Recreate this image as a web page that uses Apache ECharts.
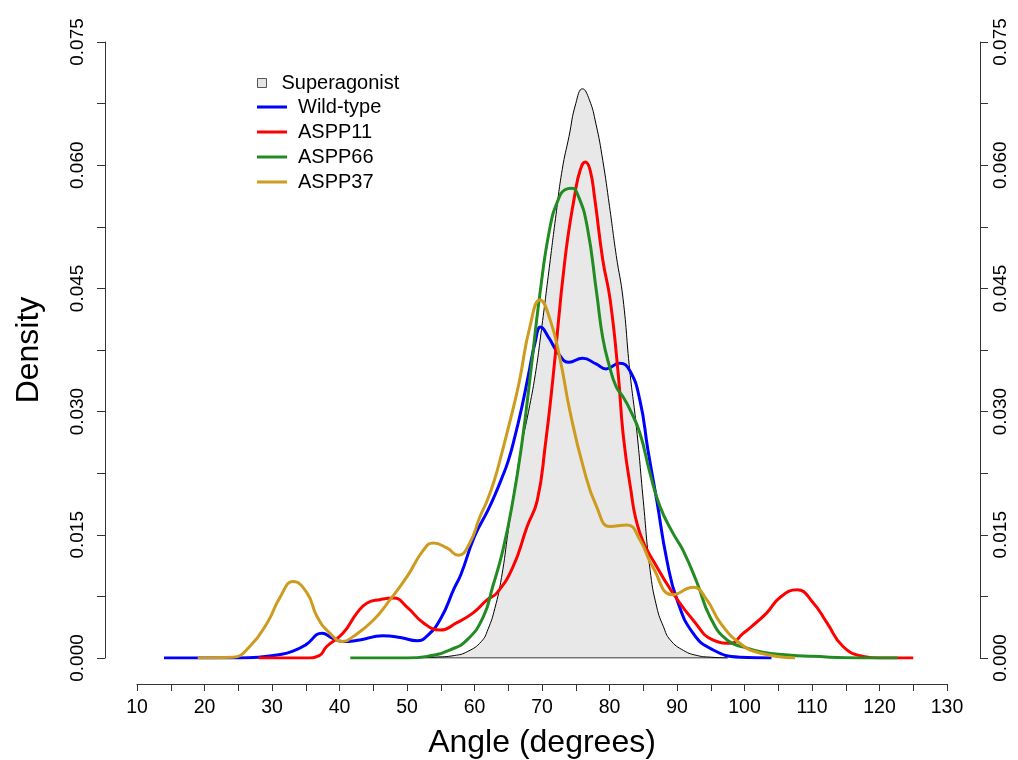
<!DOCTYPE html>
<html><head><meta charset="utf-8">
<script src="https://cdn.jsdelivr.net/npm/echarts@6/dist/echarts.min.js"></script>
<style>html,body{margin:0;padding:0;background:#fff}#c{width:1018px;height:760px}</style>
</head><body><div id="c"></div>
<script>
// ---- data ----
const xTickLabels = ['10','20','30','40','50','60','70','80','90','100','110','120','130'];
const yTickLabels = ['0.000','0.015','0.030','0.045','0.060','0.075'];
const seriesNames = ['Superagonist','Wild-type','ASPP11','ASPP66','ASPP37'];

const superX = [51, 54, 57, 59, 61, 62, 63, 64, 65, 66, 67, 68, 69, 70, 71, 72, 73, 74, 75, 76, 77, 78, 79, 80, 81, 82, 83, 84, 85, 86, 87, 88, 89, 91, 93, 95, 97.5];
const superY = [0, 0.0001, 0.0003, 0.0008, 0.002, 0.0035, 0.006, 0.0098, 0.0155, 0.021, 0.026, 0.030, 0.0345, 0.0405, 0.047, 0.0535, 0.0595, 0.0635, 0.0675, 0.0693, 0.068, 0.065, 0.0606, 0.055, 0.049, 0.0438, 0.035, 0.028, 0.0192, 0.0108, 0.0062, 0.0038, 0.0022, 0.0009, 0.0003, 0.0001, 0];

const wildX = [14, 25, 28, 31, 33, 35, 37.4, 39, 40.5, 43, 46.4, 49, 51.5, 53, 55, 57, 58, 60, 62, 63, 64, 65, 66, 67, 68, 69, 69.8, 71, 72.5, 74, 76, 78, 79.5, 81.5, 83, 84.5, 85.7, 87, 88.5, 90, 92.4, 95.3, 99.3, 104];
const wildY = [0, 0, 0.0001, 0.0004, 0.0008, 0.0016, 0.003, 0.0024, 0.002, 0.0022, 0.0027, 0.0025, 0.0021, 0.0027, 0.0048, 0.0085, 0.0102, 0.0148, 0.018, 0.0198, 0.0218, 0.024, 0.027, 0.0305, 0.0345, 0.0385, 0.0403, 0.039, 0.037, 0.036, 0.0365, 0.0358, 0.0352, 0.0359, 0.0350, 0.0314, 0.0253, 0.0192, 0.0119, 0.0071, 0.003, 0.001, 0.0001, 0];

const a11X = [28, 35, 37, 38.1, 40.5, 42.6, 44.1, 46, 48, 50, 52.4, 54.9, 57.4, 59.8, 61.9, 63.3, 65.7, 67.8, 69.3, 70.5, 71.6, 73.4, 74.9, 75.7, 76.4, 77.1, 77.8, 79, 80.1, 81.3, 82, 83, 84.5, 87, 89.4, 92.4, 95.3, 97.9, 99.8, 101, 103.3, 105.3, 107.8, 110.1, 112.2, 114.6, 117.6, 120, 125];
const a11Y = [0, 0, 0.0003, 0.0014, 0.003, 0.0055, 0.0067, 0.0071, 0.0073, 0.0062, 0.0043, 0.0034, 0.0043, 0.0055, 0.0071, 0.0079, 0.0111, 0.016, 0.0192, 0.026, 0.0339, 0.0485, 0.0566, 0.0595, 0.0604, 0.0595, 0.0560, 0.0485, 0.0436, 0.0345, 0.0274, 0.0213, 0.0152, 0.0111, 0.0079, 0.0046, 0.0022, 0.0018, 0.003, 0.0038, 0.0055, 0.0074, 0.0083, 0.0068, 0.0043, 0.0014, 0.0002, 0, 0];

const a66X = [41.6, 50, 53, 56.4, 58.9, 61.3, 62.7, 64.2, 65.7, 67, 68.2, 69.7, 71.2, 72.4, 73.4, 74.4, 75.4, 76.7, 78.1, 79, 80, 81, 82, 83, 84.5, 86, 87.5, 89.4, 90.9, 93, 94.9, 97.4, 100.4, 102.7, 106, 110, 117.6, 122.7];
const a66Y = [0, 0, 0.0002, 0.001, 0.0022, 0.005, 0.0087, 0.0131, 0.0192, 0.026, 0.0339, 0.0444, 0.0525, 0.0558, 0.057, 0.0572, 0.0562, 0.0525, 0.0444, 0.039, 0.0355, 0.033, 0.0318, 0.0303, 0.0274, 0.0225, 0.0184, 0.0152, 0.0131, 0.0091, 0.005, 0.0022, 0.0012, 0.0007, 0.0004, 0.0002, 0, 0];

const a37X = [19, 24.2, 26.7, 29.3, 31.2, 33.1, 35.2, 36.7, 38.6, 40.5, 42, 45, 47.5, 50, 52.4, 53.9, 55.9, 57.6, 59.3, 60.8, 61.9, 63, 64, 65, 66, 66.7, 68.2, 69.7, 71.2, 72.7, 74.1, 76.1, 78.1, 80.1, 82.6, 84.5, 86.4, 89.4, 92.4, 94.4, 96.4, 99.3, 102.3, 107.5];
const a37Y = [0, 0.0001, 0.0014, 0.0043, 0.0074, 0.0093, 0.0079, 0.005, 0.003, 0.002, 0.0026, 0.0046, 0.0071, 0.0099, 0.0131, 0.014, 0.0134, 0.0125, 0.014, 0.0172, 0.0192, 0.0218, 0.0248, 0.028, 0.0313, 0.0339, 0.0403, 0.0436, 0.0412, 0.0363, 0.0302, 0.0233, 0.0184, 0.016, 0.0162, 0.0144, 0.0111, 0.0077, 0.0086, 0.0071, 0.0043, 0.0018, 0.0006, 0];

// ---- build ----
const zip = (xs, ys) => xs.map((x, i) => [x, ys[i]]);
const FONT = '"Liberation Sans", Arial, Helvetica, sans-serif';
const colors = {'Wild-type':'#0000ff','ASPP11':'#ff0000','ASPP66':'#228b22','ASPP37':'#cd9b1d'};
const axisCol = '#333';
const LINE_ICON = 'path://M0,0H30V3H0Z';

const yAxisCommon = {
  type: 'value', min: 0, max: 0.075, interval: 0.015,
  axisLine: {show: true, lineStyle: {color: axisCol, width: 1}},
  axisTick: {show: true, length: 8, lineStyle: {color: axisCol, width: 1}},
  minorTick: {show: true, splitNumber: 2, length: 8, lineStyle: {color: axisCol, width: 1}},
  splitLine: {show: false}, minorSplitLine: {show: false},
  axisLabel: {rotate: 90, fontSize: 19, fontFamily: FONT, color: '#000',
    formatter: v => yTickLabels[Math.round(v / 0.015)]}
};

function lineSeries(name, xs, ys) {
  return {
    name, type: 'line', data: zip(xs, ys), symbol: 'none', showSymbol: false,
    smooth: 0.5,
    lineStyle: {color: colors[name], width: 3}, itemStyle: {color: colors[name]},
    silent: true
  };
}

const chart = echarts.init(document.getElementById('c'), null, {renderer: 'canvas'});
chart.setOption({
  animation: false,
  backgroundColor: '#fff',
  grid: {left: 137, right: 71, top: 42, bottom: 102, containLabel: false, outerBoundsMode: 'none'},
  xAxis: {
    type: 'value', min: 10, max: 130, interval: 10, offset: 26,
    name: 'Angle (degrees)', nameLocation: 'middle', nameGap: 43,
    nameTextStyle: {fontSize: 32, fontFamily: FONT, color: '#000'},
    axisLine: {show: true, onZero: false, lineStyle: {color: axisCol, width: 1}},
    axisTick: {show: true, length: 7, lineStyle: {color: axisCol, width: 1}},
    minorTick: {show: true, splitNumber: 2, length: 7, lineStyle: {color: axisCol, width: 1}},
    splitLine: {show: false}, minorSplitLine: {show: false},
    axisLabel: {fontSize: 19.5, fontFamily: FONT, color: '#000', margin: 14,
      formatter: v => xTickLabels[Math.round((v - 10) / 10)]}
  },
  yAxis: [
    Object.assign({}, yAxisCommon, {position: 'left', offset: 32,
      name: 'Density', nameLocation: 'middle', nameGap: 60, nameRotate: 90,
      nameTextStyle: {fontSize: 32, fontFamily: FONT, color: '#000'},
      axisLabel: Object.assign({}, yAxisCommon.axisLabel, {margin: 18})}),
    Object.assign({}, yAxisCommon, {position: 'right', offset: 33,
      axisLabel: Object.assign({}, yAxisCommon.axisLabel, {margin: 11})})
  ],
  legend: [
    {
      data: [{name: 'Superagonist', icon: 'rect', itemStyle: {color: '#e4e4e4', borderColor: '#555', borderWidth: 1}}],
      left: 252, top: 68, itemWidth: 9, itemHeight: 9, selectedMode: false,
      textStyle: {fontSize: 20, lineHeight: 20, fontFamily: FONT, color: '#000', padding: [0, 0, 0, 10]}
    },
    {
      data: seriesNames.slice(1).map(n => ({name: n, icon: LINE_ICON, itemStyle: {color: colors[n]}})),
      orient: 'vertical', left: 252, top: 92, itemWidth: 30, itemHeight: 3, itemGap: 5, selectedMode: false,
      textStyle: {fontSize: 20, lineHeight: 20, fontFamily: FONT, color: '#000', padding: [0, 0, 0, 6]}
    }
  ],
  series: [
    {
      name: 'Superagonist', type: 'line', data: zip(superX, superY), symbol: 'none', showSymbol: false,
      smooth: 0.5, silent: true,
      lineStyle: {color: '#000', width: 1}, itemStyle: {color: '#e4e4e4'},
      areaStyle: {color: '#e8e8e8', opacity: 1}
    },
    {
      name: 'superBase', type: 'line', symbol: 'none', silent: true,
      data: [[superX[0], 0], [superX[superX.length - 1], 0]],
      lineStyle: {color: '#000', width: 1}
    },
    lineSeries('Wild-type', wildX, wildY),
    lineSeries('ASPP11', a11X, a11Y),
    lineSeries('ASPP66', a66X, a66Y),
    lineSeries('ASPP37', a37X, a37Y)
  ]
});
</script>
</body></html>
